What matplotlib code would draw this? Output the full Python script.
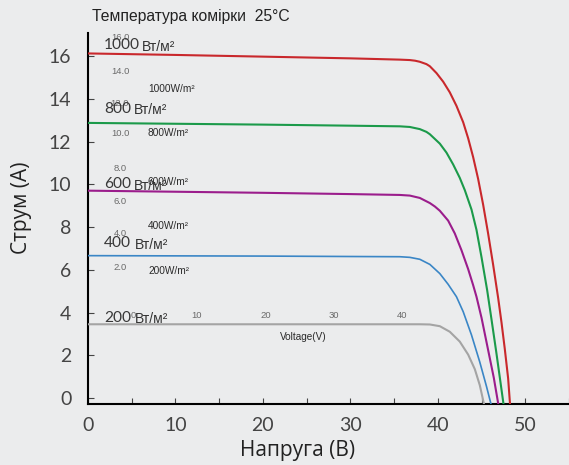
import matplotlib
matplotlib.use('Agg')
from matplotlib import pyplot as plt

# I-V curves (voltage V, current A)
v_1000 = [0, 10, 20, 30, 35.66, 36.80, 37.40, 37.94, 38.70, 39.09, 39.85, 40.61, 41.37, 42.13, 42.90, 43.47,
          44.04, 44.61, 45.18, 45.75, 46.32, 46.90, 47.28, 47.66, 48.04, 48.25]
i_1000 = [16.12, 16.05, 15.97, 15.89, 15.83, 15.81, 15.78, 15.73, 15.62, 15.52, 15.20, 14.80, 14.30, 13.67, 12.90, 12.15,
          11.27, 10.25, 9.05, 7.70, 6.25, 4.68, 3.54, 2.29, 0.92, -0.25]

v_800 = [0, 10, 20, 30, 35.66, 36.80, 37.94, 38.70, 39.09, 40.23, 40.99, 41.75, 42.51, 43.09, 43.85,
         44.42, 45.00, 45.64, 46.13, 46.70, 47.16, 47.50]
i_800 = [12.87, 12.83, 12.79, 12.74, 12.71, 12.68, 12.58, 12.45, 12.34, 11.90, 11.48, 10.93, 10.30, 9.72, 8.82,
         7.87, 6.58, 5.05, 3.70, 2.10, 0.75, -0.25]

v_600 = [0, 10, 20, 30, 35.66, 36.80, 37.94, 39.09, 39.66, 40.23, 41.18, 41.94, 42.70, 43.47, 44.04, 44.42,
         45.00, 45.75, 46.40, 46.90]
i_600 = [9.70, 9.65, 9.60, 9.54, 9.50, 9.47, 9.36, 9.12, 8.96, 8.76, 8.30, 7.70, 6.92, 6.03, 5.28, 4.74,
         3.75, 2.25, 0.95, -0.25]

v_400 = [0, 10, 20, 30, 35.66, 36.80, 37.94, 39.09, 40.23, 41.18, 42.13, 42.90, 43.85, 44.80, 45.56, 46.06]
i_400 = [6.66, 6.65, 6.64, 6.62, 6.61, 6.58, 6.49, 6.25, 5.82, 5.32, 4.74, 4.04, 2.95, 1.68, 0.55, -0.25]

v_200 = [0, 10, 20, 30, 35.66, 37.94, 39.09, 40.23, 41.37, 42.51, 43.47, 44.23, 44.80, 45.26]
i_200 = [3.45, 3.45, 3.45, 3.45, 3.45, 3.45, 3.44, 3.36, 3.10, 2.64, 2.03, 1.35, 0.60, -0.25]

curve_labels = ['1000', '800', '600', '400', '200']
unit_label = 'Вт/м²'
ghost_y_labels = ['16.0', '14.0', '12.0', '10.0', '8.0', '6.0', '4.0', '2.0']
ghost_wm_labels = ['1000W/m²', '800W/m²', '600W/m²', '400W/m²', '200W/m²']
ghost_x_labels = ['0', '10', '20', '30', '40']

W, H = 569, 465
bg = '#ebeced'
fig = plt.figure(figsize=(W / 100, H / 100), dpi=100, facecolor=bg)

def fx(x):
    return x / W

def fy(y):
    return 1 - y / H

ax = fig.add_axes([fx(88), 61 / H, (W - 88) / W, (404 - 32.7) / H])
ax.set_facecolor(bg)
ax.set_xlim(0, 54.97)
ax.set_ylim(-0.28, 17.09)

# ghost text left over from the original chart underneath
gy_pos = [37, 71, 103, 133, 168, 202, 233, 267]
for lab, y in zip(ghost_y_labels, gy_pos):
    fig.text(fx(120), fy(y), lab, ha='center', va='center', fontsize=6.8,
             color='#6a6a6a', family='Liberation Sans')
gw_pos = [89, 133, 182, 226, 271]
for lab, y in zip(ghost_wm_labels, gw_pos):
    fig.text(fx(148), fy(y), lab, ha='left', va='center', fontsize=7.3,
             color='#2a2a2a', family='Liberation Sans')
gx_pos = [133, 197, 266, 334, 402]
for lab, x in zip(ghost_x_labels, gx_pos):
    fig.text(fx(x), fy(315), lab, ha='center', va='center', fontsize=6.8,
             color='#6a6a6a', family='Liberation Sans')
fig.text(fx(303), fy(337), 'Voltage(V)', ha='center', va='center', fontsize=7.2,
         color='#2a2a2a', family='Liberation Sans')

ax.plot(v_1000, i_1000, color='#c9282c', lw=1.5, zorder=3)
ax.plot(v_800, i_800, color='#1b9a4a', lw=1.5, zorder=3)
ax.plot(v_600, i_600, color='#9b1d8c', lw=1.5, zorder=3)
ax.plot(v_400, i_400, color='#3a86c6', lw=1.2, zorder=3)
ax.plot(v_200, i_200, color='#a4a4a4', lw=1.5, zorder=3)

# irradiance labels
lab_base = [49.3, 112.7, 188.3, 247.3, 321.7]
unit_x = [142, 134, 134, 135, 135]
for lab, yb, ux in zip(curve_labels, lab_base, unit_x):
    fig.text(fx(104), fy(yb), lab, ha='left', va='baseline', fontsize=11.2,
             color='#383838', family='Lato')
    fig.text(fx(ux), fy(yb + 1.5), unit_label, ha='left', va='baseline', fontsize=10,
             color='#333333', family='Liberation Sans')

for s in ['top', 'right']:
    ax.spines[s].set_visible(False)
for s in ['left', 'bottom']:
    ax.spines[s].set_linewidth(1.5)
    ax.spines[s].set_color('black')

ax.set_xticks(range(0, 51, 10))
ax.set_xticks(range(5, 56, 10), minor=True)
ax.set_yticks(range(0, 17, 2))
ax.tick_params(which='both', direction='in', length=4.5, width=0.8, color='#444444')
ax.tick_params(axis='x', labelsize=14, labelcolor='#444444', pad=9)
ax.tick_params(axis='y', labelsize=14, labelcolor='#444444', pad=12)
for t in ax.get_xticklabels() + ax.get_yticklabels():
    t.set_family('Lato')

fig.text(fx(92), fy(21.5), 'Температура комірки  25°C', ha='left', va='baseline',
         fontsize=11.3, color='#222222', family='Liberation Sans')
fig.text(fx(22), fy(208), 'Струм (A)', rotation=90, ha='center', va='center',
         fontsize=15, color='#222222', family='Open Sans')
fig.text(fx(298), fy(450), 'Напруга (B)', ha='center', va='center',
         fontsize=15, color='#222222', family='Open Sans')

fig.savefig('out.png', dpi=100, facecolor=bg)
